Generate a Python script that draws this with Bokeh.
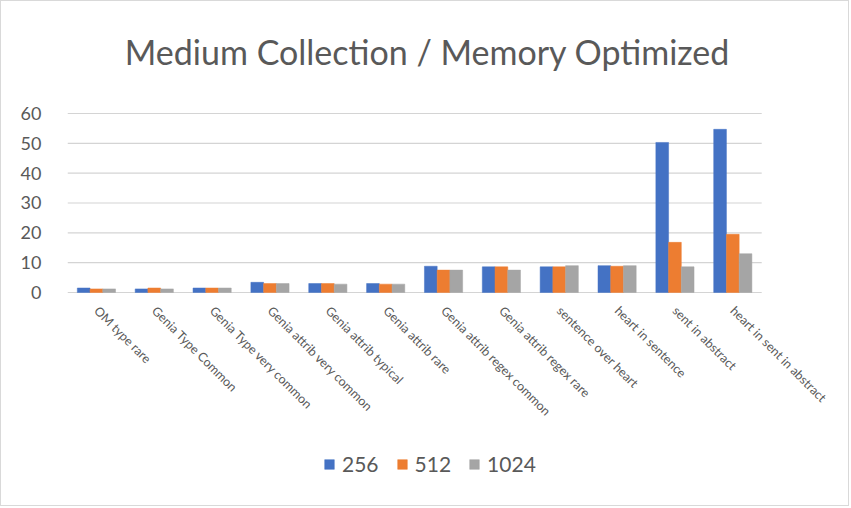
import math
from bokeh.plotting import figure
from bokeh.models import ColumnDataSource, Range1d, Legend, LegendItem, FixedTicker, Label
from bokeh.transform import dodge
from bokeh.embed import file_html
from bokeh.resources import INLINE

title_text = "Medium Collection / Memory Optimized"
categories = ["OM type rare", "Genia Type Common", "Genia Type very common",
              "Genia attrib very common", "Genia attrib typical", "Genia attrib rare",
              "Genia attrib regex common", "Genia attrib regex rare", "sentence over heart",
              "heart in sentence", "sent in abstract", "heart in sent in abstract"]
s256 = [1.5, 1.2, 1.5, 3.4, 3.0, 3.0, 8.8, 8.6, 8.6, 9.0, 50.3, 54.7]
s512 = [1.2, 1.5, 1.5, 3.0, 3.0, 2.8, 7.5, 8.6, 8.6, 8.8, 16.8, 19.5]
s1024 = [1.2, 1.2, 1.5, 3.0, 2.8, 2.8, 7.5, 7.5, 9.0, 9.0, 8.6, 13.0]
series_names = ["256", "512", "1024"]
colors = ["#4472C4", "#ED7D31", "#A5A5A5"]
yticks = [0, 10, 20, 30, 40, 50, 60]

n = len(categories)
xs = list(range(n))
src = ColumnDataSource(dict(x=xs, cat=categories, s256=s256, s512=s512, s1024=s1024))

FONT = "Lato"
TXT = "#595959"

# frame covers the whole chart area so the title, rotated labels and legend are not clipped
p = figure(width=849, height=506, x_range=Range1d(-0.5, 13.0),
           y_range=Range1d(-69.4, 97.55), output_backend="svg", toolbar_location=None,
           min_border_left=66, min_border_right=2, min_border_top=0, min_border_bottom=8)
p.styles = {"border": "1px solid #d9d9d9"}

p.add_layout(Label(x=360, y=448, x_units="screen", y_units="screen", text=title_text,
                   text_align="center", text_baseline="middle", text_font=FONT,
                   text_font_size="34px", text_color=TXT))

# horizontal gridlines over the category area only
p.segment(x0=-0.5, x1=n - 0.5, y0=yticks, y1=yticks, line_color="#d4d4d4", line_width=1.2)

bw = 0.22
renderers = []
for i, (col, c) in enumerate(zip(["s256", "s512", "s1024"], colors)):
    r = p.vbar(x=dodge("x", (i - 1) * bw), top=col, width=bw,
               source=src, fill_color=c, line_color=c, line_width=0.5)
    renderers.append(r)

p.outline_line_color = None
p.xgrid.grid_line_color = None
p.ygrid.grid_line_color = None
p.yaxis.ticker = FixedTicker(ticks=yticks)
p.yaxis.axis_line_color = None
p.yaxis.major_tick_line_color = None
p.yaxis.minor_tick_line_color = None
p.yaxis.major_label_text_font = FONT
p.yaxis.major_label_text_font_size = "18px"
p.yaxis.major_label_text_color = TXT
p.yaxis.major_label_standoff = 20

p.xaxis.fixed_location = 0
p.xaxis.ticker = FixedTicker(ticks=xs)
p.xaxis.major_label_overrides = {i: c for i, c in zip(xs, categories)}
p.xaxis.axis_line_color = None
p.xaxis.major_tick_line_color = None
p.xaxis.minor_tick_line_color = None
p.xaxis.major_label_orientation = -math.pi / 4
p.xaxis.major_label_text_font = FONT
p.xaxis.major_label_text_font_size = "12.5px"
p.xaxis.major_label_text_color = TXT
p.xaxis.major_label_standoff = 10

legend = Legend(items=[LegendItem(label=s, renderers=[r]) for s, r in zip(series_names, renderers)],
                orientation="horizontal", location=(256, 23), padding=0, margin=0,
                label_text_font=FONT, label_text_font_size="21px", label_text_color=TXT,
                glyph_width=12, glyph_height=12, spacing=17, label_standoff=7,
                border_line_color=None, background_fill_alpha=0)
p.add_layout(legend, "center")

open("out.html", "w").write(file_html(p, INLINE))
